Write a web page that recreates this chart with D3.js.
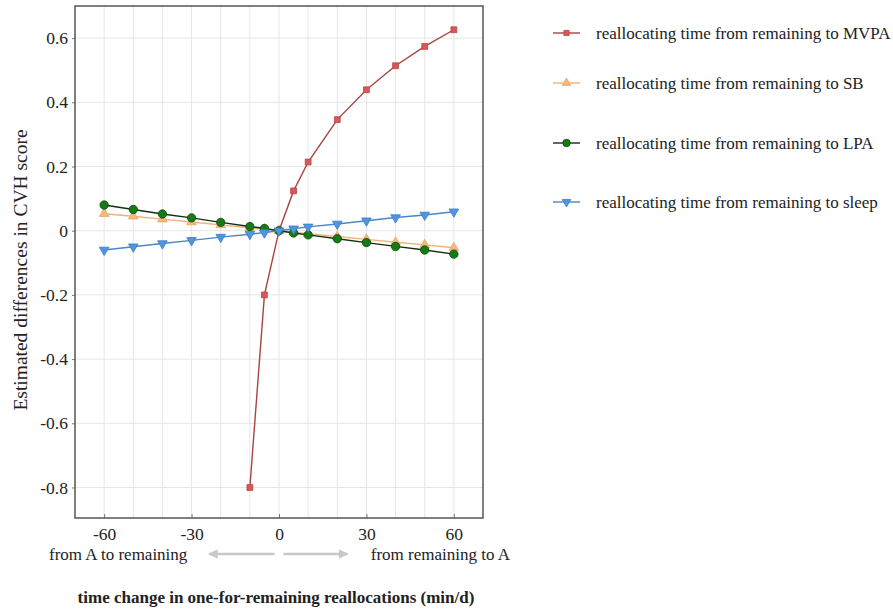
<!DOCTYPE html>
<html>
<head>
<meta charset="utf-8">
<script src="https://cdn.jsdelivr.net/npm/d3@7"></script>
<style>
  body { margin: 0; background: #fff; }
  svg text { font-family: "Liberation Serif", "DejaVu Serif", serif !important; fill: #222; }
</style>
</head>
<body>
<svg id="chart" width="893" height="610"></svg>
<script>
// x positions (min/d)
var minutes = [-60, -50, -40, -30, -20, -10, -5, 0, 5, 10, 20, 30, 40, 50, 60];
var mvpaMinutes = [-10, -5, 0, 5, 10, 20, 30, 40, 50, 60];

var mvpaValues = [-0.80, -0.20, 0, 0.124, 0.214, 0.346, 0.439, 0.514, 0.574, 0.626];
var sbValues = [0.053, 0.045, 0.036, 0.027, 0.018, 0.009, 0.0045, 0, -0.0045, -0.009, -0.018, -0.027, -0.036, -0.044, -0.053];
var lpaValues = [0.080, 0.066, 0.052, 0.040, 0.026, 0.013, 0.007, 0, -0.007, -0.013, -0.025, -0.037, -0.049, -0.060, -0.073];
var sleepValues = [-0.060, -0.050, -0.040, -0.030, -0.020, -0.011, -0.006, 0, 0.006, 0.012, 0.021, 0.031, 0.041, 0.049, 0.059];

var seriesNames = [
    'reallocating time from remaining to MVPA',
    'reallocating time from remaining to SB',
    'reallocating time from remaining to LPA',
    'reallocating time from remaining to sleep'
];

var xTicks = [-60, -30, 0, 30, 60];
var yTicks = [-0.8, -0.6, -0.4, -0.2, 0, 0.2, 0.4, 0.6];

var series = [
    { name: seriesNames[0], xs: mvpaMinutes, ys: mvpaValues, line: '#a8443f', fill: '#d9575a', stroke: '#b84446', symbol: d3.symbolSquare, size: 34, rot: 0 },
    { name: seriesNames[1], xs: minutes, ys: sbValues, line: '#eeb27a', fill: '#f5b97e', stroke: '#e8a868', symbol: d3.symbolTriangle, size: 40, rot: 0 },
    { name: seriesNames[2], xs: minutes, ys: lpaValues, line: '#10300f', fill: '#167a16', stroke: '#0b4a0b', symbol: d3.symbolCircle, size: 55, rot: 0 },
    { name: seriesNames[3], xs: minutes, ys: sleepValues, line: '#4a86c8', fill: '#4f95e0', stroke: '#3c7cc8', symbol: d3.symbolTriangle, size: 40, rot: 180 }
];

var svg = d3.select('#chart');
var margin = { left: 75, top: 6, right: 483, bottom: 518 };

var x = d3.scaleLinear().domain([-70, 70]).range([margin.left, margin.right]);
var y = d3.scaleLinear().domain([-0.895, 0.7]).range([margin.bottom, margin.top]);

// grid
var grid = svg.append('g');
grid.selectAll('.vg').data(d3.range(-60, 61, 10)).enter().append('line')
    .attr('x1', function (d) { return x(d); }).attr('x2', function (d) { return x(d); })
    .attr('y1', margin.top).attr('y2', margin.bottom)
    .attr('stroke', '#e6e6e6').attr('stroke-width', 1);
grid.selectAll('.hg').data(yTicks).enter().append('line')
    .attr('x1', margin.left).attr('x2', margin.right)
    .attr('y1', function (d) { return y(d); }).attr('y2', function (d) { return y(d); })
    .attr('stroke', '#e6e6e6').attr('stroke-width', 1);

// lines + markers
series.forEach(function (s) {
    var pts = s.xs.map(function (v, i) { return [v, s.ys[i]]; });
    svg.append('path')
        .attr('d', d3.line().x(function (d) { return x(d[0]); }).y(function (d) { return y(d[1]); })(pts))
        .attr('fill', 'none').attr('stroke', s.line).attr('stroke-width', 1.4);
    svg.append('g').selectAll('path').data(pts).enter().append('path')
        .attr('d', d3.symbol().type(s.symbol).size(s.size))
        .attr('transform', function (d) { return 'translate(' + x(d[0]) + ',' + y(d[1]) + ') rotate(' + s.rot + ')'; })
        .attr('fill', s.fill).attr('stroke', s.stroke).attr('stroke-width', 0.8);
});

// plain hyphen minus like the original
var fmtY = function (d) { return d === 0 ? '0' : d.toFixed(1); };

// axes
var xAxis = svg.append('g').attr('transform', 'translate(0,' + margin.bottom + ')')
    .call(d3.axisBottom(x).tickValues(xTicks).tickSizeInner(-4).tickSizeOuter(0).tickPadding(10)
        .tickFormat(function (d) { return String(d); }));
var yAxis = svg.append('g').attr('transform', 'translate(' + margin.left + ',0)')
    .call(d3.axisLeft(y).tickValues(yTicks).tickSizeInner(3).tickSizeOuter(0).tickPadding(4)
        .tickFormat(fmtY));
[xAxis, yAxis].forEach(function (a) {
    a.select('.domain').remove();
    a.attr('font-family', null).attr('font-size', null);
    a.selectAll('line').attr('stroke', '#777');
    a.selectAll('text').style('font-size', '17.5px').attr('fill', '#222');
});

// frame
svg.append('rect')
    .attr('x', margin.left).attr('y', margin.top)
    .attr('width', margin.right - margin.left).attr('height', margin.bottom - margin.top)
    .attr('fill', 'none').attr('stroke', '#555').attr('stroke-width', 1.5);

// y title
svg.append('text')
    .attr('transform', 'translate(27,270) rotate(-90)')
    .attr('text-anchor', 'middle').style('font-size', '19.5px')
    .text('Estimated differences in CVH score');

// direction labels and arrows
var arrowY = 554;
svg.append('text').attr('x', 49).attr('y', arrowY + 6).style('font-size', '17px').text('from A to remaining');
svg.append('text').attr('x', 510).attr('y', arrowY + 6).attr('text-anchor', 'end').style('font-size', '17px').text('from remaining to A');

var defs = svg.append('defs');
defs.append('marker').attr('id', 'head')
    .attr('viewBox', '0 0 10 10').attr('refX', 9).attr('refY', 5)
    .attr('markerWidth', 5).attr('markerHeight', 4).attr('markerUnits', 'strokeWidth')
    .attr('orient', 'auto')
    .append('path').attr('d', 'M0,0L10,5L0,10Z').attr('fill', '#c8c8c8');
svg.append('line').attr('x1', x(-1.5)).attr('x2', x(-24)).attr('y1', arrowY).attr('y2', arrowY)
    .attr('stroke', '#c8c8c8').attr('stroke-width', 2.4).attr('marker-end', 'url(#head)');
svg.append('line').attr('x1', x(1.5)).attr('x2', x(23.5)).attr('y1', arrowY).attr('y2', arrowY)
    .attr('stroke', '#c8c8c8').attr('stroke-width', 2.4).attr('marker-end', 'url(#head)');

// x title
svg.append('text').attr('x', 276).attr('y', 603).attr('text-anchor', 'middle')
    .style('font-size', '17px').style('font-weight', 'bold')
    .text('time change in one-for-remaining reallocations (min/d)');

// legend
var legend = svg.append('g');
var legendY = [33, 83, 143, 202];
series.forEach(function (s, i) {
    var g = legend.append('g').attr('transform', 'translate(553,' + legendY[i] + ')');
    g.append('line').attr('x1', 0).attr('x2', 27).attr('stroke', s.line).attr('stroke-width', 1.4);
    g.append('path').attr('d', d3.symbol().type(s.symbol).size(s.size * 0.8))
        .attr('transform', 'translate(13.5,0) rotate(' + s.rot + ')')
        .attr('fill', s.fill).attr('stroke', s.stroke).attr('stroke-width', 0.8);
    g.append('text').attr('x', 43).attr('y', 6).style('font-size', '17px').text(s.name);
});
</script>
</body>
</html>
